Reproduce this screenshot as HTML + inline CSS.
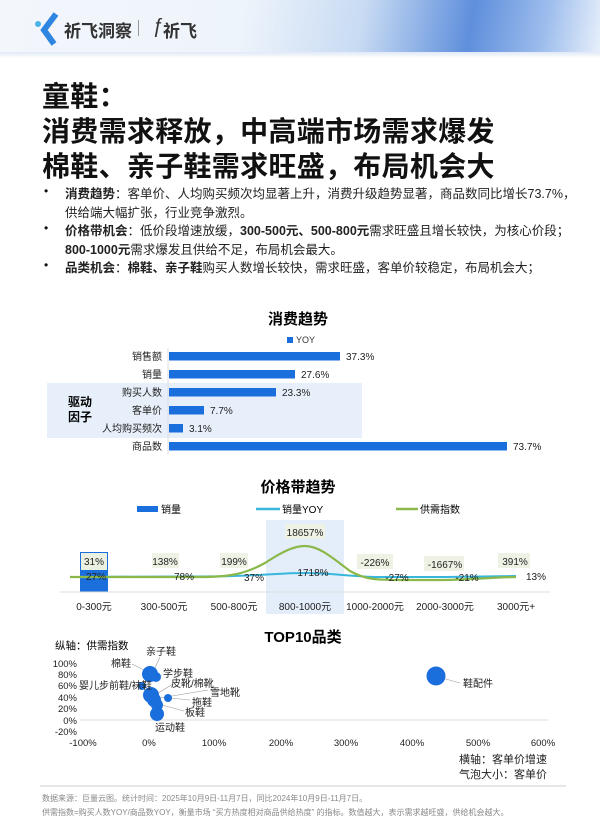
<!DOCTYPE html>
<html><head><meta charset="utf-8"><style>
body{margin:0;width:600px;height:828px;overflow:hidden;background:#fff;font-family:"Liberation Sans","Noto Sans CJK SC",sans-serif;position:relative;color:#111}
.a{position:absolute;white-space:nowrap}
.t{font-weight:bold;font-size:28px;left:42px;letter-spacing:0.3px}
.b{font-size:12.5px;left:65px;color:#222}
.dot{position:absolute;left:44px;font-size:12px}
</style></head><body>
<div class="a" style="left:0;top:0;width:600px;height:56px;background:linear-gradient(100deg,#f3f7fc 0%,#eef4fb 40%,#c8dbf3 60%,#5f8fdc 78%,#9cbcec 90%,#e8f0fb 100%)"></div>
<div class="a" style="left:0;top:52px;width:600px;height:6px;background:linear-gradient(#dfe9f6,#fff)"></div>
<svg class="a" style="left:34px;top:12px" width="30" height="36"><path d="M22 2 L10 18 L20 32" stroke="#2f86e0" stroke-width="6" fill="none"/><circle cx="4" cy="12" r="3" fill="#4ab4e8"/></svg>
<div class="a" style="left:64px;top:17px;font-size:17px;font-weight:bold;color:#333">祈飞洞察</div>
<div class="a" style="left:138px;top:20px;width:1px;height:16px;background:#999"></div>
<div class="a" style="left:152px;top:15px;font-size:20px;font-style:italic;color:#333">ƒ</div>
<div class="a" style="left:163px;top:17px;font-size:17px;font-weight:bold;color:#333">祈飞</div>

<div class="a t" style="top:75px">童鞋：</div>
<div class="a t" style="top:110px">消费需求释放，中高端市场需求爆发</div>
<div class="a t" style="top:145px">棉鞋、亲子鞋需求旺盛，布局机会大</div>

<div class="dot" style="top:184px">•</div>
<div class="a b" style="top:183px"><b>消费趋势</b>：客单价、人均购买频次均显著上升，消费升级趋势显著，商品数同比增长73.7%，</div>
<div class="a b" style="top:202px">供给端大幅扩张，行业竞争激烈。</div>
<div class="dot" style="top:221px">•</div>
<div class="a b" style="top:220px"><b>价格带机会</b>：低价段增速放缓，<b>300-500元、500-800元</b>需求旺盛且增长较快，为核心价段；</div>
<div class="a b" style="top:239px"><b>800-1000元</b>需求爆发且供给不足，布局机会最大。</div>
<div class="dot" style="top:258px">•</div>
<div class="a b" style="top:257px"><b>品类机会</b>：<b>棉鞋、亲子鞋</b>购买人数增长较快，需求旺盛，客单价较稳定，布局机会大；</div>

<svg class="a" style="left:0;top:0" width="600" height="828" font-family="Liberation Sans,Noto Sans CJK SC,sans-serif">
<text x="298" y="324" font-size="15" font-weight="bold" text-anchor="middle">消费趋势</text>
<rect x="287" y="337" width="6" height="6" fill="#1b6fdc"/><text x="296" y="343" font-size="9" fill="#333">YOY</text>
<rect x="47" y="383" width="315" height="55" fill="#e7f0fa"/>
<text x="68" y="406" font-size="12" font-weight="bold">驱动</text><text x="68" y="421" font-size="12" font-weight="bold">因子</text>
<line x1="168" y1="348" x2="168" y2="454" stroke="#ddd"/>
<g font-size="10" fill="#222" text-anchor="end">
<text x="162" y="360">销售额</text><text x="162" y="378">销量</text><text x="162" y="396">购买人数</text><text x="162" y="414">客单价</text><text x="162" y="432">人均购买频次</text><text x="162" y="450">商品数</text></g>
<g fill="#1b6fdc">
<rect x="169" y="352" width="171" height="8.5"/><rect x="169" y="370" width="126" height="8.5"/><rect x="169" y="388" width="107" height="8.5"/><rect x="169" y="406" width="35" height="8.5"/><rect x="169" y="424" width="14" height="8.5"/><rect x="169" y="442" width="338" height="8.5"/></g>
<g font-size="10" fill="#222">
<text x="346" y="360">37.3%</text><text x="301" y="378">27.6%</text><text x="282" y="396">23.3%</text><text x="210" y="414">7.7%</text><text x="189" y="432">3.1%</text><text x="513" y="450">73.7%</text></g>
<text x="298" y="492" font-size="15" font-weight="bold" text-anchor="middle">价格带趋势</text>
<rect x="137" y="506" width="21" height="6" fill="#1b6fdc"/><text x="161" y="513" font-size="10">销量</text>
<line x1="256" y1="509" x2="280" y2="509" stroke="#38b6dc" stroke-width="2.5"/><text x="282" y="513" font-size="10">销量YOY</text>
<line x1="396" y1="509" x2="418" y2="509" stroke="#8ab84a" stroke-width="2.5"/><text x="420" y="513" font-size="10">供需指数</text>
<rect x="266" y="520" width="78" height="94" fill="#e4eefa"/>
<rect x="80" y="552" width="28" height="40" fill="#1b6fdc"/>
<rect x="81" y="553" width="26" height="17" fill="#eaf1e0"/>
<line x1="60" y1="592" x2="550" y2="592" stroke="#ddd"/>
<path d="M94 577 C180 576 200 577 234 576 C270 575 280 573 305 573 C330 573 345 576 375 577 L445 577 L516 576" stroke="#38b6dc" stroke-width="2" fill="none"/>
<path d="M70 577 L200 577 C230 577 245 574 265 563 C285 550 295 546 305 546 C320 546 335 560 350 571 C365 580 380 580 400 580 L445 580 C480 579 500 577 516 577" stroke="#8ab84a" stroke-width="2.2" fill="none"/>
<g font-size="10" fill="#222" text-anchor="middle">
<rect x="152" y="553" width="27" height="15" fill="#eef2e4"/><rect x="220" y="553" width="28" height="15" fill="#eef2e4"/><rect x="285" y="524" width="40" height="15" fill="#eef2e4"/><rect x="357" y="554" width="36" height="15" fill="#eef2e4"/><rect x="424" y="556" width="40" height="15" fill="#eef2e4"/><rect x="498" y="553" width="32" height="15" fill="#eef2e4"/>
<text x="94" y="565">31%</text><text x="165" y="565">138%</text><text x="234" y="565">199%</text><text x="305" y="536">18657%</text><text x="375" y="566">-226%</text><text x="445" y="568">-1667%</text><text x="515" y="565">391%</text>
<text x="96" y="580">27%</text><text x="184" y="580">78%</text><text x="254" y="581">37%</text><text x="313" y="576">1718%</text><text x="397" y="581">-27%</text><text x="467" y="581">-21%</text><text x="536" y="580">13%</text>
<text x="94" y="610">0-300元</text><text x="164" y="610">300-500元</text><text x="234" y="610">500-800元</text><text x="305" y="610">800-1000元</text><text x="375" y="610">1000-2000元</text><text x="445" y="610">2000-3000元</text><text x="516" y="610">3000元+</text></g>
<text x="303" y="642" font-size="15" font-weight="bold" text-anchor="middle">TOP10品类</text>
<text x="55" y="649" font-size="10.5">纵轴：供需指数</text>
<g font-size="9.5" text-anchor="end" fill="#222">
<text x="77" y="667">100%</text><text x="77" y="678">80%</text><text x="77" y="689">60%</text><text x="77" y="701">40%</text><text x="77" y="712">20%</text><text x="77" y="724">0%</text><text x="77" y="735">-20%</text></g>
<line x1="80" y1="720" x2="548" y2="720" stroke="#ddd"/>
<g font-size="9.5" text-anchor="middle" fill="#222">
<text x="83" y="746">-100%</text><text x="149" y="746">0%</text><text x="214" y="746">100%</text><text x="281" y="746">200%</text><text x="346" y="746">300%</text><text x="412" y="746">400%</text><text x="478" y="746">500%</text><text x="543" y="746">600%</text></g>
<g stroke="#999" stroke-width="0.6" fill="none">
<path d="M132 664 L148 672"/><path d="M160 657 L154 670"/><path d="M162 675 L157 677"/><path d="M173 684 L158 693"/><path d="M208 690 L160 698"/><path d="M190 700 L170 698"/><path d="M184 711 L162 705"/><path d="M460 683 L442 678"/><path d="M157 722 L157 717"/></g>
<g fill="#1b6fdc">
<circle cx="150" cy="674" r="8"/><circle cx="156" cy="677" r="5"/><circle cx="142" cy="686" r="4"/><circle cx="151" cy="695" r="8"/><circle cx="154" cy="700" r="7"/><circle cx="168" cy="698" r="4"/><circle cx="157" cy="705" r="6"/><circle cx="157" cy="714" r="7"/><circle cx="436" cy="676" r="9.5"/></g>
<g font-size="10" fill="#222">
<text x="146" y="655">亲子鞋</text><text x="111" y="667">棉鞋</text><text x="163" y="677">学步鞋</text><text x="79" y="689">婴儿步前鞋/袜鞋</text><text x="171" y="687">皮靴/棉靴</text><text x="210" y="696">雪地靴</text><text x="192" y="706">拖鞋</text><text x="185" y="716">板鞋</text><text x="155" y="731">运动鞋</text><text x="463" y="687">鞋配件</text></g>
<g font-size="11" text-anchor="end" fill="#222"><text x="547" y="763">横轴：客单价增速</text><text x="547" y="778">气泡大小：客单价</text></g>
<line x1="40" y1="786" x2="566" y2="786" stroke="#ccc"/>
<g font-size="8" fill="#888"><text x="42" y="801">数据来源：巨量云图。统计时间：2025年10月9日-11月7日，同比2024年10月9日-11月7日。</text>
<text x="42" y="815">供需指数=购买人数YOY/商品数YOY，衡量市场 “买方热度相对商品供给热度” 的指标。数值越大，表示需求越旺盛，供给机会越大。</text></g>
</svg>
</body></html>
